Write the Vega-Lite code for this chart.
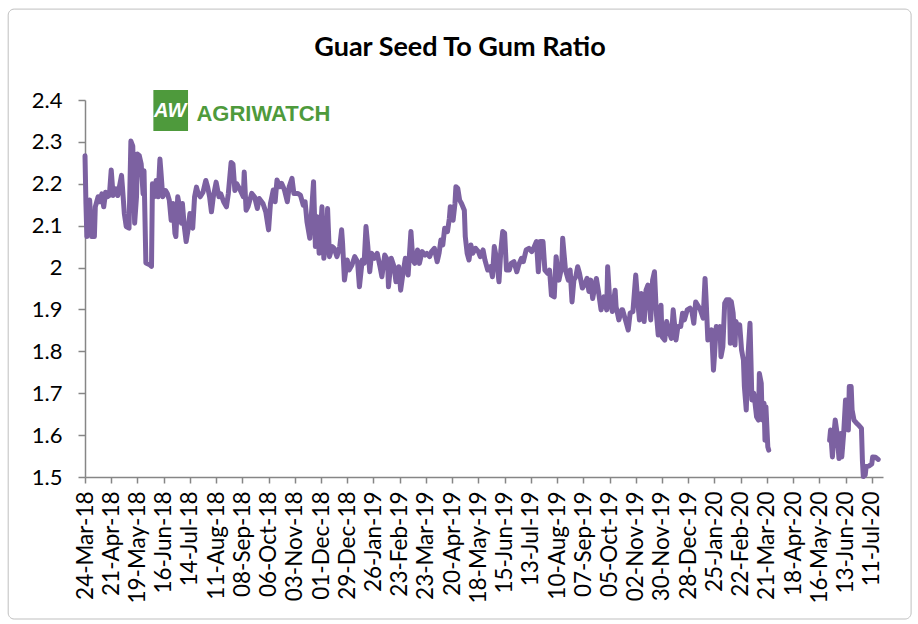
{
 "$schema": "https://vega.github.io/schema/vega-lite/v6.json",
 "width": 798, "height": 377,
 "autosize": "none",
 "padding": {"left": 85, "top": 100, "right": 35, "bottom": 147},
 "background": "white",
 "config": {"view": {"stroke": null}, "font": "Lato", "axis": {"labelOverlap": false}},
 "title": {"text": "Guar Seed To Gum Ratio", "font": "Lato", "fontSize": 27, "fontWeight": "bold", "color": "#000000", "anchor": "middle", "frame": "group", "offset": -53, "dx": -24},
 "datasets": {
  "ratio": [
   {"date":"2018-03-24","v":2.267,"s":"a"},{"date":"2018-03-25","v":2.153,"s":"a"},{"date":"2018-03-26","v":2.074,"s":"a"},{"date":"2018-03-29","v":2.161,"s":"a"},{"date":"2018-03-31","v":2.074,"s":"a"},{"date":"2018-04-03","v":2.074,"s":"a"},{"date":"2018-04-04","v":2.145,"s":"a"},{"date":"2018-04-07","v":2.169,"s":"a"},{"date":"2018-04-09","v":2.157,"s":"a"},{"date":"2018-04-11","v":2.176,"s":"a"},{"date":"2018-04-13","v":2.145,"s":"a"},{"date":"2018-04-15","v":2.18,"s":"a"},{"date":"2018-04-17","v":2.169,"s":"a"},{"date":"2018-04-19","v":2.172,"s":"a"},{"date":"2018-04-21","v":2.233,"s":"a"},{"date":"2018-04-23","v":2.172,"s":"a"},{"date":"2018-04-26","v":2.188,"s":"a"},{"date":"2018-04-28","v":2.172,"s":"a"},{"date":"2018-05-02","v":2.22,"s":"a"},{"date":"2018-05-03","v":2.192,"s":"a"},{"date":"2018-05-05","v":2.129,"s":"a"},{"date":"2018-05-07","v":2.098,"s":"a"},{"date":"2018-05-10","v":2.094,"s":"a"},{"date":"2018-05-12","v":2.302,"s":"a"},{"date":"2018-05-14","v":2.29,"s":"a"},{"date":"2018-05-16","v":2.106,"s":"a"},{"date":"2018-05-18","v":2.169,"s":"a"},{"date":"2018-05-19","v":2.271,"s":"a"},{"date":"2018-05-21","v":2.267,"s":"a"},{"date":"2018-05-23","v":2.247,"s":"a"},{"date":"2018-05-25","v":2.176,"s":"a"},{"date":"2018-05-26","v":2.231,"s":"a"},{"date":"2018-05-28","v":2.011,"s":"a"},{"date":"2018-06-01","v":2.007,"s":"a"},{"date":"2018-06-03","v":2.003,"s":"a"},{"date":"2018-06-04","v":2.2,"s":"a"},{"date":"2018-06-06","v":2.169,"s":"a"},{"date":"2018-06-08","v":2.208,"s":"a"},{"date":"2018-06-10","v":2.169,"s":"a"},{"date":"2018-06-12","v":2.259,"s":"a"},{"date":"2018-06-13","v":2.231,"s":"a"},{"date":"2018-06-15","v":2.169,"s":"a"},{"date":"2018-06-18","v":2.184,"s":"a"},{"date":"2018-06-20","v":2.176,"s":"a"},{"date":"2018-06-22","v":2.161,"s":"a"},{"date":"2018-06-24","v":2.113,"s":"a"},{"date":"2018-06-26","v":2.153,"s":"a"},{"date":"2018-06-28","v":2.082,"s":"a"},{"date":"2018-06-29","v":2.074,"s":"a"},{"date":"2018-07-01","v":2.169,"s":"a"},{"date":"2018-07-03","v":2.145,"s":"a"},{"date":"2018-07-05","v":2.106,"s":"a"},{"date":"2018-07-06","v":2.153,"s":"a"},{"date":"2018-07-08","v":2.098,"s":"a"},{"date":"2018-07-10","v":2.062,"s":"a"},{"date":"2018-07-12","v":2.09,"s":"a"},{"date":"2018-07-14","v":2.129,"s":"a"},{"date":"2018-07-15","v":2.121,"s":"a"},{"date":"2018-07-17","v":2.094,"s":"a"},{"date":"2018-07-19","v":2.169,"s":"a"},{"date":"2018-07-21","v":2.192,"s":"a"},{"date":"2018-07-23","v":2.176,"s":"a"},{"date":"2018-07-25","v":2.169,"s":"a"},{"date":"2018-07-28","v":2.18,"s":"a"},{"date":"2018-07-31","v":2.208,"s":"a"},{"date":"2018-08-02","v":2.192,"s":"a"},{"date":"2018-08-04","v":2.169,"s":"a"},{"date":"2018-08-06","v":2.133,"s":"a"},{"date":"2018-08-08","v":2.169,"s":"a"},{"date":"2018-08-11","v":2.204,"s":"a"},{"date":"2018-08-14","v":2.169,"s":"a"},{"date":"2018-08-16","v":2.176,"s":"a"},{"date":"2018-08-19","v":2.157,"s":"a"},{"date":"2018-08-22","v":2.145,"s":"a"},{"date":"2018-08-24","v":2.176,"s":"a"},{"date":"2018-08-27","v":2.251,"s":"a"},{"date":"2018-08-29","v":2.247,"s":"a"},{"date":"2018-08-31","v":2.184,"s":"a"},{"date":"2018-09-02","v":2.2,"s":"a"},{"date":"2018-09-05","v":2.188,"s":"a"},{"date":"2018-09-09","v":2.169,"s":"a"},{"date":"2018-09-10","v":2.228,"s":"a"},{"date":"2018-09-12","v":2.137,"s":"a"},{"date":"2018-09-14","v":2.145,"s":"a"},
   {"date":"2018-09-16","v":2.161,"s":"a"},{"date":"2018-09-18","v":2.177,"s":"a"},{"date":"2018-09-21","v":2.169,"s":"a"},{"date":"2018-09-24","v":2.141,"s":"a"},{"date":"2018-09-26","v":2.165,"s":"a"},{"date":"2018-09-30","v":2.153,"s":"a"},{"date":"2018-10-03","v":2.133,"s":"a"},{"date":"2018-10-06","v":2.09,"s":"a"},{"date":"2018-10-08","v":2.153,"s":"a"},{"date":"2018-10-11","v":2.185,"s":"a"},{"date":"2018-10-13","v":2.157,"s":"a"},{"date":"2018-10-15","v":2.209,"s":"a"},{"date":"2018-10-18","v":2.193,"s":"a"},{"date":"2018-10-20","v":2.201,"s":"a"},{"date":"2018-10-23","v":2.185,"s":"a"},{"date":"2018-10-26","v":2.157,"s":"a"},{"date":"2018-10-28","v":2.193,"s":"a"},{"date":"2018-10-31","v":2.213,"s":"a"},{"date":"2018-11-02","v":2.177,"s":"a"},{"date":"2018-11-06","v":2.177,"s":"a"},{"date":"2018-11-09","v":2.173,"s":"a"},{"date":"2018-11-12","v":2.149,"s":"a"},{"date":"2018-11-14","v":2.157,"s":"a"},{"date":"2018-11-16","v":2.109,"s":"a"},{"date":"2018-11-19","v":2.07,"s":"a"},{"date":"2018-11-21","v":2.137,"s":"a"},{"date":"2018-11-23","v":2.205,"s":"a"},{"date":"2018-11-25","v":2.05,"s":"a"},{"date":"2018-11-27","v":2.121,"s":"a"},{"date":"2018-11-29","v":2.034,"s":"a"},{"date":"2018-12-02","v":2.145,"s":"a"},{"date":"2018-12-04","v":2.022,"s":"a"},{"date":"2018-12-07","v":2.074,"s":"a"},{"date":"2018-12-08","v":2.141,"s":"a"},{"date":"2018-12-10","v":2.026,"s":"a"},{"date":"2018-12-13","v":2.05,"s":"a"},{"date":"2018-12-15","v":2.046,"s":"a"},{"date":"2018-12-18","v":2.026,"s":"a"},{"date":"2018-12-21","v":2.05,"s":"a"},{"date":"2018-12-23","v":2.09,"s":"a"},{"date":"2018-12-24","v":2.058,"s":"a"},{"date":"2018-12-26","v":1.97,"s":"a"},{"date":"2018-12-29","v":2.018,"s":"a"},{"date":"2018-12-31","v":1.994,"s":"a"},{"date":"2019-01-03","v":2.006,"s":"a"},{"date":"2019-01-06","v":2.026,"s":"a"},{"date":"2019-01-09","v":2.014,"s":"a"},{"date":"2019-01-11","v":1.954,"s":"a"},{"date":"2019-01-14","v":2.018,"s":"a"},{"date":"2019-01-16","v":2.01,"s":"a"},{"date":"2019-01-18","v":2.098,"s":"a"},{"date":"2019-01-20","v":2.05,"s":"a"},{"date":"2019-01-22","v":1.99,"s":"a"},{"date":"2019-01-24","v":2.034,"s":"a"},{"date":"2019-01-27","v":2.022,"s":"a"},{"date":"2019-01-30","v":2.034,"s":"a"},{"date":"2019-02-02","v":2.002,"s":"a"},{"date":"2019-02-04","v":1.978,"s":"a"},{"date":"2019-02-07","v":2.03,"s":"a"},{"date":"2019-02-10","v":2.018,"s":"a"},{"date":"2019-02-11","v":1.954,"s":"a"},{"date":"2019-02-14","v":2.022,"s":"a"},{"date":"2019-02-17","v":2.002,"s":"a"},{"date":"2019-02-19","v":1.966,"s":"a"},{"date":"2019-02-22","v":2.002,"s":"a"},{"date":"2019-02-24","v":1.946,"s":"a"},{"date":"2019-02-26","v":1.978,"s":"a"},{"date":"2019-03-01","v":2.022,"s":"a"},{"date":"2019-03-04","v":1.982,"s":"a"},{"date":"2019-03-07","v":2.086,"s":"a"},{"date":"2019-03-09","v":2.018,"s":"a"},
   {"date":"2019-03-11","v":2.01,"s":"a"},{"date":"2019-03-14","v":2.042,"s":"a"},{"date":"2019-03-16","v":2.01,"s":"a"},{"date":"2019-03-19","v":2.038,"s":"a"},{"date":"2019-03-22","v":2.03,"s":"a"},{"date":"2019-03-24","v":2.034,"s":"a"},{"date":"2019-03-27","v":2.026,"s":"a"},{"date":"2019-03-29","v":2.038,"s":"a"},{"date":"2019-04-01","v":2.046,"s":"a"},{"date":"2019-04-04","v":2.014,"s":"a"},{"date":"2019-04-06","v":2.034,"s":"a"},{"date":"2019-04-08","v":2.066,"s":"a"},{"date":"2019-04-10","v":2.054,"s":"a"},{"date":"2019-04-12","v":2.094,"s":"a"},{"date":"2019-04-15","v":2.086,"s":"a"},{"date":"2019-04-17","v":2.117,"s":"a"},{"date":"2019-04-18","v":2.145,"s":"a"},{"date":"2019-04-21","v":2.113,"s":"a"},{"date":"2019-04-23","v":2.153,"s":"a"},{"date":"2019-04-24","v":2.193,"s":"a"},{"date":"2019-04-26","v":2.189,"s":"a"},{"date":"2019-04-28","v":2.161,"s":"a"},{"date":"2019-04-30","v":2.153,"s":"a"},{"date":"2019-05-03","v":2.137,"s":"a"},{"date":"2019-05-04","v":2.074,"s":"a"},{"date":"2019-05-06","v":2.034,"s":"a"},{"date":"2019-05-08","v":2.018,"s":"a"},{"date":"2019-05-10","v":2.054,"s":"a"},{"date":"2019-05-12","v":2.034,"s":"a"},{"date":"2019-05-15","v":2.046,"s":"a"},{"date":"2019-05-18","v":2.038,"s":"a"},{"date":"2019-05-20","v":2.026,"s":"a"},{"date":"2019-05-23","v":2.042,"s":"a"},{"date":"2019-05-25","v":2.018,"s":"a"},{"date":"2019-05-28","v":1.994,"s":"a"},{"date":"2019-05-31","v":2.002,"s":"a"},{"date":"2019-06-02","v":1.978,"s":"a"},{"date":"2019-06-04","v":2.05,"s":"a"},{"date":"2019-06-06","v":2.026,"s":"a"},{"date":"2019-06-09","v":1.966,"s":"a"},{"date":"2019-06-11","v":2.042,"s":"a"},{"date":"2019-06-13","v":2.086,"s":"a"},{"date":"2019-06-15","v":2.082,"s":"a"},{"date":"2019-06-17","v":1.994,"s":"a"},{"date":"2019-06-20","v":1.994,"s":"a"},{"date":"2019-06-22","v":2.01,"s":"a"},{"date":"2019-06-25","v":2.014,"s":"a"},{"date":"2019-06-28","v":1.99,"s":"a"},{"date":"2019-06-30","v":2.006,"s":"a"},{"date":"2019-07-03","v":2.022,"s":"a"},{"date":"2019-07-05","v":2.014,"s":"a"},{"date":"2019-07-08","v":2.042,"s":"a"},{"date":"2019-07-11","v":2.046,"s":"a"},{"date":"2019-07-14","v":2.038,"s":"a"},{"date":"2019-07-16","v":2.046,"s":"a"},{"date":"2019-07-19","v":2.062,"s":"a"},{"date":"2019-07-21","v":1.99,"s":"a"},{"date":"2019-07-23","v":2.062,"s":"a"},{"date":"2019-07-26","v":2.062,"s":"a"},{"date":"2019-07-28","v":1.994,"s":"a"},{"date":"2019-07-31","v":1.986,"s":"a"},{"date":"2019-08-02","v":1.994,"s":"a"},{"date":"2019-08-04","v":1.934,"s":"a"},{"date":"2019-08-07","v":1.93,"s":"a"},{"date":"2019-08-09","v":2.026,"s":"a"},{"date":"2019-08-12","v":1.97,"s":"a"},{"date":"2019-08-15","v":2.002,"s":"a"},{"date":"2019-08-16","v":2.07,"s":"a"},{"date":"2019-08-19","v":1.994,"s":"a"},{"date":"2019-08-22","v":1.97,"s":"a"},{"date":"2019-08-24","v":1.994,"s":"a"},{"date":"2019-08-26","v":1.918,"s":"a"},{"date":"2019-08-28","v":1.97,"s":"a"},
   {"date":"2019-08-30","v":1.978,"s":"a"},{"date":"2019-09-01","v":2.002,"s":"a"},{"date":"2019-09-03","v":1.986,"s":"a"},{"date":"2019-09-06","v":1.951,"s":"a"},{"date":"2019-09-09","v":1.962,"s":"a"},{"date":"2019-09-11","v":1.974,"s":"a"},{"date":"2019-09-13","v":1.943,"s":"a"},{"date":"2019-09-15","v":1.97,"s":"a"},{"date":"2019-09-17","v":1.926,"s":"a"},{"date":"2019-09-21","v":1.974,"s":"a"},{"date":"2019-09-23","v":1.946,"s":"a"},{"date":"2019-09-26","v":1.899,"s":"a"},{"date":"2019-09-29","v":1.93,"s":"a"},{"date":"2019-10-02","v":1.899,"s":"a"},{"date":"2019-10-03","v":2.002,"s":"a"},{"date":"2019-10-05","v":1.93,"s":"a"},{"date":"2019-10-08","v":1.895,"s":"a"},{"date":"2019-10-11","v":1.946,"s":"a"},{"date":"2019-10-12","v":1.907,"s":"a"},{"date":"2019-10-15","v":1.875,"s":"a"},{"date":"2019-10-18","v":1.899,"s":"a"},{"date":"2019-10-19","v":1.899,"s":"a"},{"date":"2019-10-22","v":1.875,"s":"a"},{"date":"2019-10-25","v":1.851,"s":"a"},{"date":"2019-10-27","v":1.891,"s":"a"},{"date":"2019-10-30","v":1.895,"s":"a"},{"date":"2019-11-02","v":1.982,"s":"a"},{"date":"2019-11-04","v":1.922,"s":"a"},{"date":"2019-11-06","v":1.875,"s":"a"},{"date":"2019-11-08","v":1.938,"s":"a"},{"date":"2019-11-11","v":1.871,"s":"a"},{"date":"2019-11-13","v":1.946,"s":"a"},{"date":"2019-11-15","v":1.958,"s":"a"},{"date":"2019-11-18","v":1.875,"s":"a"},{"date":"2019-11-20","v":1.97,"s":"a"},{"date":"2019-11-22","v":1.99,"s":"a"},{"date":"2019-11-24","v":1.891,"s":"a"},{"date":"2019-11-26","v":1.839,"s":"a"},{"date":"2019-11-29","v":1.91,"s":"a"},{"date":"2019-11-30","v":1.835,"s":"a"},{"date":"2019-12-03","v":1.827,"s":"a"},{"date":"2019-12-05","v":1.871,"s":"a"},{"date":"2019-12-07","v":1.851,"s":"a"},{"date":"2019-12-10","v":1.831,"s":"a"},{"date":"2019-12-12","v":1.899,"s":"a"},{"date":"2019-12-15","v":1.827,"s":"a"},{"date":"2019-12-17","v":1.859,"s":"a"},{"date":"2019-12-20","v":1.859,"s":"a"},{"date":"2019-12-22","v":1.891,"s":"a"},{"date":"2019-12-24","v":1.875,"s":"a"},{"date":"2019-12-27","v":1.899,"s":"a"},{"date":"2019-12-30","v":1.903,"s":"a"},{"date":"2020-01-01","v":1.895,"s":"a"},{"date":"2020-01-03","v":1.867,"s":"a"},{"date":"2020-01-05","v":1.918,"s":"a"},{"date":"2020-01-08","v":1.907,"s":"a"},{"date":"2020-01-10","v":1.899,"s":"a"},{"date":"2020-01-13","v":1.879,"s":"a"},{"date":"2020-01-15","v":1.974,"s":"a"},{"date":"2020-01-16","v":1.93,"s":"a"},{"date":"2020-01-18","v":1.827,"s":"a"},{"date":"2020-01-20","v":1.843,"s":"a"},{"date":"2020-01-22","v":1.851,"s":"a"},{"date":"2020-01-24","v":1.755,"s":"a"},{"date":"2020-01-25","v":1.787,"s":"a"},{"date":"2020-01-27","v":1.859,"s":"a"},{"date":"2020-01-29","v":1.851,"s":"a"},
   {"date":"2020-01-31","v":1.859,"s":"a"},{"date":"2020-02-01","v":1.787,"s":"a"},{"date":"2020-02-03","v":1.811,"s":"a"},{"date":"2020-02-05","v":1.915,"s":"a"},{"date":"2020-02-07","v":1.923,"s":"a"},{"date":"2020-02-10","v":1.923,"s":"a"},{"date":"2020-02-11","v":1.819,"s":"a"},{"date":"2020-02-12","v":1.919,"s":"a"},{"date":"2020-02-14","v":1.891,"s":"a"},{"date":"2020-02-16","v":1.815,"s":"a"},{"date":"2020-02-17","v":1.871,"s":"a"},{"date":"2020-02-19","v":1.859,"s":"a"},{"date":"2020-02-21","v":1.863,"s":"a"},{"date":"2020-02-23","v":1.803,"s":"a"},{"date":"2020-02-25","v":1.779,"s":"a"},{"date":"2020-02-26","v":1.716,"s":"a"},{"date":"2020-02-28","v":1.66,"s":"a"},{"date":"2020-03-01","v":1.795,"s":"a"},{"date":"2020-03-03","v":1.867,"s":"a"},{"date":"2020-03-04","v":1.779,"s":"a"},{"date":"2020-03-05","v":1.684,"s":"a"},{"date":"2020-03-07","v":1.7,"s":"a"},{"date":"2020-03-08","v":1.684,"s":"a"},{"date":"2020-03-10","v":1.644,"s":"a"},{"date":"2020-03-12","v":1.636,"s":"a"},{"date":"2020-03-13","v":1.747,"s":"a"},{"date":"2020-03-15","v":1.724,"s":"a"},{"date":"2020-03-16","v":1.636,"s":"a"},{"date":"2020-03-18","v":1.676,"s":"a"},{"date":"2020-03-19","v":1.588,"s":"a"},{"date":"2020-03-20","v":1.668,"s":"a"},{"date":"2020-03-22","v":1.572,"s":"a"},{"date":"2020-03-23","v":1.564,"s":"a"},
   {"date":"2020-05-27","v":1.588,"s":"b"},{"date":"2020-05-28","v":1.612,"s":"b"},{"date":"2020-05-30","v":1.548,"s":"b"},{"date":"2020-06-01","v":1.612,"s":"b"},{"date":"2020-06-02","v":1.636,"s":"b"},{"date":"2020-06-04","v":1.604,"s":"b"},{"date":"2020-06-06","v":1.544,"s":"b"},{"date":"2020-06-08","v":1.604,"s":"b"},{"date":"2020-06-09","v":1.548,"s":"b"},{"date":"2020-06-11","v":1.604,"s":"b"},{"date":"2020-06-13","v":1.684,"s":"b"},{"date":"2020-06-15","v":1.668,"s":"b"},{"date":"2020-06-16","v":1.612,"s":"b"},{"date":"2020-06-17","v":1.716,"s":"b"},{"date":"2020-06-19","v":1.716,"s":"b"},{"date":"2020-06-20","v":1.66,"s":"b"},{"date":"2020-06-22","v":1.636,"s":"b"},{"date":"2020-06-25","v":1.628,"s":"b"},{"date":"2020-06-27","v":1.624,"s":"b"},{"date":"2020-06-30","v":1.616,"s":"b"},{"date":"2020-07-01","v":1.54,"s":"b"},{"date":"2020-07-02","v":1.501,"s":"b"},{"date":"2020-07-04","v":1.505,"s":"b"},{"date":"2020-07-05","v":1.525,"s":"b"},{"date":"2020-07-08","v":1.526,"s":"b"},{"date":"2020-07-11","v":1.531,"s":"b"},{"date":"2020-07-12","v":1.548,"s":"b"},{"date":"2020-07-15","v":1.547,"s":"b"},{"date":"2020-07-18","v":1.542,"s":"b"}
  ]
 },
 "layer": [
  {
   "data": {"values": [{}]},
   "mark": {"type": "rect", "filled": false, "stroke": "#BFBFBF", "strokeWidth": 1, "cornerRadius": 6},
   "encoding": {
    "x": {"datum": {"year": 2018, "month": 1, "date": 1, "utc": true}, "type": "temporal"},
    "x2": {"datum": {"year": 2020, "month": 8, "date": 22, "utc": true}},
    "y": {"datum": 2.617, "type": "quantitative"},
    "y2": {"datum": 1.161}
   }
  },
  {
   "data": {"values": [{}]},
   "mark": {"type": "rect", "fill": "#4E9A3C"},
   "encoding": {
    "x": {"datum": {"year": 2018, "month": 6, "date": 5, "utc": true}, "type": "temporal"},
    "x2": {"datum": {"year": 2018, "month": 7, "date": 12, "utc": true}},
    "y": {"datum": 2.424, "type": "quantitative"},
    "y2": {"datum": 2.326}
   }
  },
  {
   "data": {"values": [{}]},
   "mark": {"type": "text", "text": "AW", "font": "Liberation Sans", "fontSize": 20, "fontWeight": "bold", "fontStyle": "italic", "color": "#FFFFFF", "align": "center", "baseline": "middle", "dy": 1},
   "encoding": {
    "x": {"datum": {"year": 2018, "month": 6, "date": 23, "utc": true}, "type": "temporal"},
    "y": {"datum": 2.375, "type": "quantitative"}
   }
  },
  {
   "data": {"values": [{}]},
   "mark": {"type": "text", "text": "AGRIWATCH", "font": "Liberation Sans", "fontSize": 22, "fontWeight": "bold", "color": "#4E9A3C", "align": "left", "baseline": "alphabetic"},
   "encoding": {
    "x": {"datum": {"year": 2018, "month": 7, "date": 21, "utc": true}, "type": "temporal"},
    "y": {"datum": 2.35, "type": "quantitative"}
   }
  },
  {
   "data": {"name": "ratio", "format": {"parse": {"date": "utc:'%Y-%m-%d'"}}},
   "mark": {"type": "line", "color": "#7C61A1", "strokeWidth": 5, "strokeJoin": "round", "strokeCap": "round"},
   "encoding": {
    "detail": {"field": "s", "type": "nominal"},
    "x": {"field": "date", "type": "temporal",
     "scale": {"type": "utc", "domain": [{"year": 2018, "month": 3, "date": 24, "utc": true}, {"year": 2020, "month": 7, "date": 23, "utc": true}], "nice": false},
     "axis": {"title": null, "grid": false, "tickCount": 100, "labelExpr": "utcFormat(datum.value, '%d-%b-%y')", "labelAngle": -90, "labelFont": "Lato", "labelFontSize": 22.5, "labelColor": "#000000", "labelPadding": 8, "labelOverlap": false, "labelFlush": false, "labelBound": false, "tickSize": 6, "tickColor": "#868686", "domainColor": "#868686", "domainWidth": 1.5, "tickWidth": 1.5,
      "values": [
       {"year":2018,"month":3,"date":24,"utc":true},{"year":2018,"month":4,"date":21,"utc":true},{"year":2018,"month":5,"date":19,"utc":true},{"year":2018,"month":6,"date":16,"utc":true},{"year":2018,"month":7,"date":14,"utc":true},{"year":2018,"month":8,"date":11,"utc":true},{"year":2018,"month":9,"date":8,"utc":true},{"year":2018,"month":10,"date":6,"utc":true},{"year":2018,"month":11,"date":3,"utc":true},{"year":2018,"month":12,"date":1,"utc":true},{"year":2018,"month":12,"date":29,"utc":true},
       {"year":2019,"month":1,"date":26,"utc":true},{"year":2019,"month":2,"date":23,"utc":true},{"year":2019,"month":3,"date":23,"utc":true},{"year":2019,"month":4,"date":20,"utc":true},{"year":2019,"month":5,"date":18,"utc":true},{"year":2019,"month":6,"date":15,"utc":true},{"year":2019,"month":7,"date":13,"utc":true},{"year":2019,"month":8,"date":10,"utc":true},{"year":2019,"month":9,"date":7,"utc":true},{"year":2019,"month":10,"date":5,"utc":true},{"year":2019,"month":11,"date":2,"utc":true},{"year":2019,"month":11,"date":30,"utc":true},{"year":2019,"month":12,"date":28,"utc":true},
       {"year":2020,"month":1,"date":25,"utc":true},{"year":2020,"month":2,"date":22,"utc":true},{"year":2020,"month":3,"date":21,"utc":true},{"year":2020,"month":4,"date":18,"utc":true},{"year":2020,"month":5,"date":16,"utc":true},{"year":2020,"month":6,"date":13,"utc":true},{"year":2020,"month":7,"date":11,"utc":true}
      ]}},
    "y": {"field": "v", "type": "quantitative",
     "scale": {"domain": [1.5, 2.4], "nice": false, "zero": false},
     "axis": {"title": null, "grid": false, "values": [1.5,1.6,1.7,1.8,1.9,2.0,2.1,2.2,2.3,2.4], "format": ".1~f", "labelFont": "Lato", "labelFontSize": 22, "labelColor": "#000000", "labelPadding": 16, "tickSize": 7, "tickColor": "#868686", "domainColor": "#868686", "domainWidth": 1.5, "tickWidth": 1.5}}
   }
  }
 ]
}
